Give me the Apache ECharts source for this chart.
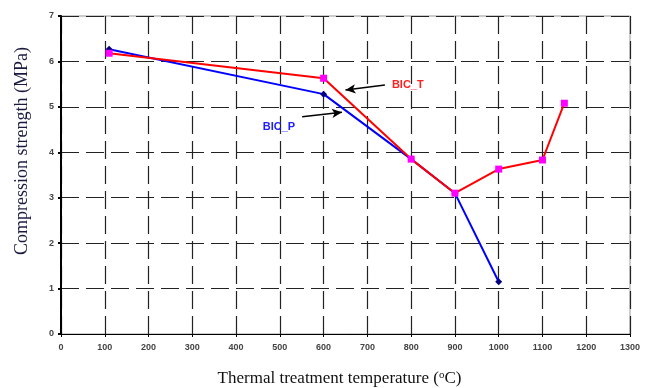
<!DOCTYPE html>
<html><head><meta charset="utf-8">
<script src="https://cdn.jsdelivr.net/npm/echarts@6/dist/echarts.min.js"></script>
<style>html,body{margin:0;padding:0;background:#fff}#c{width:650px;height:388px}</style>
</head><body><div id="c"></div>
<script>
const bicP_x = [110, 600, 800, 900, 1000];
const bicP_y = [6.27, 5.28, 3.85, 3.1, 1.15];
const bicT_x = [110, 600, 800, 900, 1000, 1100, 1150];
const bicT_y = [6.18, 5.63, 3.85, 3.1, 3.63, 3.83, 5.08];
const xTitle = 'Thermal treatment temperature';
const yTitle = 'Compression strength (MPa)';
const labelP = 'BIC_P', labelT = 'BIC_T';

const chart = echarts.init(document.getElementById('c'));
const dash = {color:'#222', width:1.2, type:[18,7]};
const tickFont = {color:'#444', fontSize:9, fontWeight:'bold', fontFamily:'Arial, Liberation Sans'};
chart.setOption({
  animation:false,
  grid:{left:61, right:20, top:16, bottom:54, show:true, borderColor:'#999', borderWidth:1,
        containLabel:false, outerBoundsMode:'none'},
  xAxis:{type:'value', min:0, max:1300, interval:100,
    axisLine:{lineStyle:{color:'#000', width:1}},
    axisTick:{show:true, length:3, lineStyle:{color:'#000'}},
    axisLabel:Object.assign({margin:9, formatter:v=>String(v)}, tickFont),
    splitLine:{show:true, lineStyle:dash},
    name:'{t|'+xTitle+' (}{s|o}{t|C)}', nameLocation:'middle', nameGap:36,
    nameTextStyle:{padding:[0,12,0,0], rich:{t:{fontFamily:'Liberation Serif, Times New Roman', fontSize:17, color:'#111'},
                        s:{fontFamily:'Liberation Serif', fontSize:11, color:'#111', verticalAlign:'top', padding:[0,0,7,0]}}}
  },
  yAxis:{type:'value', min:0, max:7, interval:1,
    axisLine:{show:true, lineStyle:{color:'#000', width:2}},
    axisTick:{show:true, length:3, lineStyle:{color:'#000', width:2}},
    axisLabel:Object.assign({margin:7}, tickFont),
    splitLine:{show:true, lineStyle:dash}
  },
  series:[
    {type:'line', name:labelP, data:bicP_x.map((x,i)=>[x,bicP_y[i]]),
     lineStyle:{color:'#0000ff', width:2}, symbol:'diamond', symbolSize:7,
     itemStyle:{color:'#000080'}, z:2},
    {type:'line', name:labelT, data:bicT_x.map((x,i)=>[x,bicT_y[i]]),
     lineStyle:{color:'#ff0000', width:2}, symbol:'rect', symbolSize:7,
     itemStyle:{color:'#ff00ff'}, z:3,
     markLine:{silent:true, symbol:['none','arrow'], symbolSize:[7,10], animation:false,
       lineStyle:{color:'#000', width:1.5, type:'solid'}, label:{show:false},
       data:[
         [{coord:[740,5.48]},{coord:[650,5.37]}],
         [{coord:[551,4.78]},{coord:[642,4.88]}]
       ]}
    }
  ]
});
const pT = chart.convertToPixel({gridIndex:0},[756,5.49]);
const pP = chart.convertToPixel({gridIndex:0},[461,4.56]);
chart.setOption({graphic:[
  {type:'text', x:pT[0], y:pT[1], style:{text:labelT, fill:'#ff2020', font:'bold 11px Arial, Liberation Sans', verticalAlign:'middle'}},
  {type:'text', x:pP[0], y:pP[1], style:{text:labelP, fill:'#2020ff', font:'bold 11px Arial, Liberation Sans', verticalAlign:'middle'}},
  {type:'text', x:22, y:151, rotation:Math.PI/2, style:{text:yTitle, fill:'#1a1a40', font:'18px Liberation Serif, Times New Roman', align:'center', verticalAlign:'middle'}}
]});
</script></body></html>
